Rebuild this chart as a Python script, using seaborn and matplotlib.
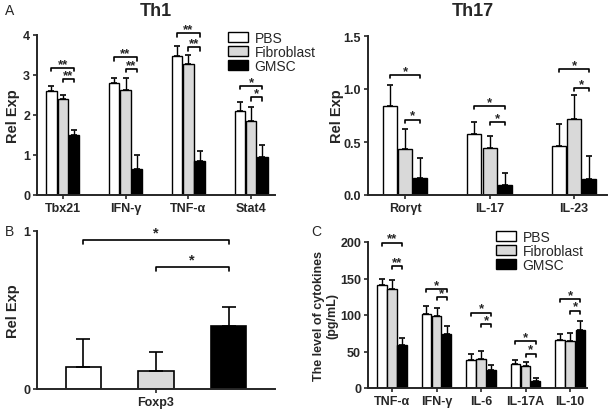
import numpy as np
import pandas as pd
import seaborn as sns
import matplotlib.pyplot as plt

sns.set_style("ticks")
plt.rcParams['font.family'] = ['Liberation Sans', 'DejaVu Sans']

groups = ["PBS", "Fibroblast", "GMSC"]
colors = ["white", "#d9d9d9", "black"]

# Th1
th1_genes = ["Tbx21", "IFN-γ", "TNF-α", "Stat4"]
th1_mean = {"PBS": [2.61, 2.79, 3.48, 2.11],
            "Fibroblast": [2.40, 2.63, 3.28, 1.86],
            "GMSC": [1.50, 0.65, 0.86, 0.94]}
th1_err = {"PBS": [0.11, 0.13, 0.24, 0.21],
           "Fibroblast": [0.11, 0.30, 0.22, 0.33],
           "GMSC": [0.13, 0.35, 0.23, 0.31]}
th1_sig = [("**", 3.18, 2.90), ("**", 3.44, 3.15), ("**", 4.04, 3.69), ("*", 2.72, 2.44)]

# Th17
th17_genes = ["Rorγt", "IL-17", "IL-23"]
th17_mean = {"PBS": [0.84, 0.58, 0.46],
             "Fibroblast": [0.43, 0.44, 0.72],
             "GMSC": [0.16, 0.09, 0.15]}
th17_err = {"PBS": [0.20, 0.11, 0.21],
            "Fibroblast": [0.19, 0.12, 0.22],
            "GMSC": [0.19, 0.12, 0.22]}
th17_sig = [("*", 1.13, 0.71), ("*", 0.84, 0.69), ("*", 1.19, 1.01)]

# Foxp3
foxp3_mean = [0.137, 0.116, 0.40]
foxp3_err = [0.18, 0.12, 0.12]
foxp3_sig = ("*", 0.94, 0.77)

# Cytokines
cyto = ["TNF-α", "IFN-γ", "IL-6", "IL-17A", "IL-10"]
cyto_mean = {"PBS": [141, 101, 39, 33, 66],
             "Fibroblast": [135, 99, 40, 30.5, 65],
             "GMSC": [59, 74, 24, 10, 80]}
cyto_err = {"PBS": [9, 11, 8, 6, 8],
            "Fibroblast": [13, 10, 11, 5.5, 11],
            "GMSC": [10, 11, 8, 4, 12]}
cyto_sig = [("**", 199, 167), ("*", 135, 124), ("*", 103, 87), ("*", 64, 47), ("*", 122, 106)]


def long_df(cats, means, errs):
    rows = []
    for g in groups:
        for c, m, e in zip(cats, means[g], errs[g]):
            rows.append({"gene": c, "group": g, "value": m, "err": e})
    return pd.DataFrame(rows)


def grouped(ax, cats, means, errs, sigs, width, ylim, yticks, yticklabels, xlim, legend=False):
    df = long_df(cats, means, errs)
    sns.barplot(data=df, x="gene", y="value", hue="group", hue_order=groups,
                palette=colors, edgecolor="black", linewidth=1, errorbar=None,
                width=width, gap=0.08, ax=ax, legend=legend)
    centers = {}
    for g, cont in zip(groups, ax.containers):
        xs = [p.get_x() + p.get_width() / 2 for p in cont.patches]
        hs = [p.get_height() for p in cont.patches]
        e = df[df.group == g]["err"].values
        ax.errorbar(xs, hs, yerr=[np.zeros(len(e)), e], fmt="none", ecolor="black",
                    elinewidth=1, capsize=2.5, capthick=1.2)
        centers[g] = xs
    tick = (ylim[1] - ylim[0]) * 0.02
    for i, (s, hb, hs) in enumerate(sigs):
        for x0, y in ((centers["PBS"][i], hb), (centers["Fibroblast"][i], hs)):
            x1 = centers["GMSC"][i]
            ax.plot([x0, x0, x1, x1], [y - tick, y, y, y - tick], color="black", lw=1.2,
                    clip_on=False)
            ax.text((x0 + x1) / 2, y - tick * 0.6, s, ha="center", va="bottom", fontsize=9.5,
                    fontweight="bold")
    ax.set_ylim(*ylim)
    ax.set_yticks(yticks)
    ax.set_yticklabels(yticklabels)
    ax.set_xlim(*xlim)
    ax.set_xlabel("")


fig = plt.figure(figsize=(6.14, 4.14), dpi=100)
W, H = 614, 414


def axes_px(l, t, r, b):
    return fig.add_axes([l / W, (H - b) / H, (r - l) / W, (b - t) / H])


axA = axes_px(37, 36, 275, 196)
axT = axes_px(368, 37, 607, 196)
axB = axes_px(37, 232, 275, 390)
axC = axes_px(368, 243, 587, 389)

grouped(axA, th1_genes, th1_mean, th1_err, th1_sig, 0.54, (0, 4), [0, 1, 2, 3, 4],
        ["0", "1", "2", "3", "4"], (-0.41, 3.38))
grouped(axT, th17_genes, th17_mean, th17_err, th17_sig, 0.54, (0, 1.5), [0, 0.5, 1.0, 1.5],
        ["0.0", "0.5", "1.0", "1.5"], (-0.44, 2.39))
grouped(axC, cyto, cyto_mean, cyto_err, cyto_sig, 0.68, (0, 200), [0, 50, 100, 150, 200],
        ["0", "50", "100", "150", "200"], (-0.54, 4.38), legend=True)

# Foxp3 panel
dfB = pd.DataFrame({"group": groups, "value": foxp3_mean})
sns.barplot(data=dfB, x="group", y="value", hue="group", palette=colors, edgecolor="black",
            linewidth=1.2, errorbar=None, width=0.49, ax=axB, legend=False)
xb = [p.get_x() + p.get_width() / 2 for p in axB.patches]
hb = [p.get_height() for p in axB.patches]
axB.errorbar(xb, hb, yerr=[np.zeros(3), foxp3_err], fmt="none", ecolor="black",
             elinewidth=1.2, capsize=5, capthick=1.2)
s, y1, y2 = foxp3_sig
for x0, y in ((xb[0], y1), (xb[1], y2)):
    axB.plot([x0, x0, xb[2], xb[2]], [y - 0.02, y, y, y - 0.02], color="black", lw=1.2)
    axB.text((x0 + xb[2]) / 2, y + 0.005, s, ha="center", va="bottom", fontsize=10.5,
             fontweight="bold")
axB.set_ylim(0, 1)
axB.set_yticks([0, 1])
axB.set_xlim(-0.64, 2.64)
axB.set_xticks([1])
axB.set_xticklabels(["Foxp3"])
axB.set_xlabel("")

for ax in (axA, axT, axB, axC):
    sns.despine(ax=ax)
    for sp in ("left", "bottom"):
        ax.spines[sp].set_linewidth(1.4)
    ax.tick_params(width=1.2, length=3, labelsize=9, pad=2)
    for lab in ax.get_xticklabels() + ax.get_yticklabels():
        lab.set_fontweight("bold")
    ax.set_ylabel("Rel Exp", fontsize=10.5, fontweight="bold", labelpad=0)

axA.yaxis.labelpad = 2
axB.yaxis.labelpad = 2
axC.set_ylabel("The level of cytokines\n(pg/mL)", fontsize=9, fontweight="bold", labelpad=1)
leg_kw = dict(loc="upper left", frameon=False, fontsize=10, handlelength=1.4,
              handleheight=0.75, labelspacing=0.0, handletextpad=0.5, borderaxespad=0)
axC.legend(bbox_to_anchor=(0.56, 1.12), **leg_kw)
# legend for panel A, same handles
h, l = axC.get_legend_handles_labels()
axA.legend(h, l, bbox_to_anchor=(0.78, 1.06), **leg_kw)

fig.text(156 / W, 1 - 12 / H, "Th1", ha="center", va="center", fontsize=13, fontweight="bold")
fig.text(473 / W, 1 - 12 / H, "Th17", ha="center", va="center", fontsize=13, fontweight="bold")
fig.text(5 / W, 1 - 11 / H, "A", ha="left", va="center", fontsize=10)
fig.text(5 / W, 1 - 232 / H, "B", ha="left", va="center", fontsize=10)
fig.text(311 / W, 1 - 232 / H, "C", ha="left", va="center", fontsize=10)

fig.savefig("out.png", dpi=100)
